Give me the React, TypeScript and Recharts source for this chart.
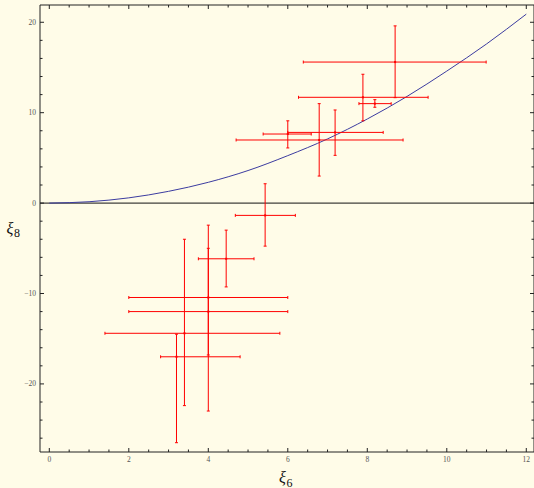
import React from 'react';
import { ComposedChart, Scatter, Line, XAxis, YAxis, ErrorBar, ReferenceLine } from 'recharts';

// ---- data ----
const pointX = [8.7, 7.89, 8.19, 6.0, 7.19, 6.79, 5.43, 4.45, 4.0, 4.0, 3.4, 3.2];
const pointY = [15.6, 11.7, 11.0, 7.64, 7.82, 6.98, -1.36, -6.16, -10.44, -12.0, -14.4, -17.0];
const xErrMinus = [2.31, 1.62, 0.4, 0.62, 1.19, 2.09, 0.75, 0.7, 2.0, 2.0, 2.0, 0.4];
const xErrPlus = [2.29, 1.64, 0.41, 0.59, 1.21, 2.11, 0.76, 0.7, 2.0, 2.0, 2.4, 1.6];
const yErrMinus = [3.94, 2.6, 0.4, 1.54, 2.54, 3.99, 3.4, 3.11, 6.36, 11.0, 8.0, 9.5];
const yErrPlus = [4.0, 2.55, 0.44, 1.46, 2.48, 4.02, 3.5, 3.17, 5.44, 9.56, 10.4, 2.5];

const curveX = [0, 1, 2, 3, 4, 5, 6, 7, 8, 9, 10, 11, 12];
const curveY = [0, 0.15, 0.58, 1.3, 2.3, 3.6, 5.25, 7.1, 9.3, 11.8, 14.6, 17.6, 20.9];

const xTicks = [0, 0.5, 1, 1.5, 2, 2.5, 3, 3.5, 4, 4.5, 5, 5.5, 6, 6.5, 7, 7.5, 8, 8.5, 9, 9.5, 10, 10.5, 11, 11.5, 12];
const xMajor = [0, 2, 4, 6, 8, 10, 12];
const yTicks = [-26, -24, -22, -20, -18, -16, -14, -12, -10, -8, -6, -4, -2, 0, 2, 4, 6, 8, 10, 12, 14, 16, 18, 20];
const yMajor = [-20, -10, 0, 10, 20];

const xDomain = [-0.234, 12.194];
const yDomain = [-27.53, 21.91];

const points = pointX.map((x, i) => ({
  x,
  y: pointY[i],
  ex: [xErrMinus[i], xErrPlus[i]],
  ey: [yErrMinus[i], yErrPlus[i]],
}));
const curve = curveX.map((x, i) => ({ x, y: curveY[i] }));

// ---- layout ----
const W = 534;
const H = 488;
const PLOT_TOP = 5;
const PLOT_BOTTOM = 452;
const PLOT_LEFT = 40;
const PLOT_RIGHT = 534;
const BG = '#FFFCE8';
const FRAME = '#222';
const LABEL = '#555';
const FONT = "'Liberation Serif', 'Times New Roman', 'DejaVu Serif', serif";

const fmt = (v: number) => (v < 0 ? '\u2212' + Math.abs(v) : String(v));

const XTick = (props: any) => {
  const { x, payload } = props;
  const v = payload.value;
  const major = xMajor.includes(v);
  const len = major ? 4 : 2.5;
  return (
    <g>
      <line x1={x} y1={PLOT_BOTTOM} x2={x} y2={PLOT_BOTTOM - len} stroke={FRAME} strokeWidth={1} />
      <line x1={x} y1={PLOT_TOP} x2={x} y2={PLOT_TOP + len} stroke={FRAME} strokeWidth={1} />
      {major && (
        <text x={x} y={462} textAnchor="middle" fill={LABEL} style={{ fontFamily: FONT, fontSize: 7.5 }}>
          {fmt(v)}
        </text>
      )}
    </g>
  );
};

const YTick = (props: any) => {
  const { y, payload } = props;
  const v = payload.value;
  const major = yMajor.includes(v);
  const len = major ? 4 : 2.5;
  return (
    <g>
      <line x1={PLOT_LEFT} y1={y} x2={PLOT_LEFT + len} y2={y} stroke={FRAME} strokeWidth={1} />
      <line x1={PLOT_RIGHT} y1={y} x2={PLOT_RIGHT - len} y2={y} stroke={FRAME} strokeWidth={1} />
      {major && (
        <text x={36} y={y + 2.5} textAnchor="end" fill={LABEL} style={{ fontFamily: FONT, fontSize: 7.5 }}>
          {fmt(v)}
        </text>
      )}
    </g>
  );
};

const Dot = (props: any) => {
  const { cx, cy } = props;
  return <rect x={cx - 1} y={cy - 1} width={2} height={2} fill="#ff0000" />;
};

export default function App() {
  return (
    <div style={{ position: 'absolute', left: 0, top: 0, width: W, height: H, background: BG }}>
      <ComposedChart
        width={W}
        height={H}
        margin={{ top: PLOT_TOP, right: 0, bottom: 0, left: 0 }}
      >
        <XAxis
          type="number"
          dataKey="x"
          domain={xDomain}
          allowDataOverflow
          ticks={xTicks}
          interval={0}
          tickLine={false}
          axisLine={{ stroke: FRAME, strokeWidth: 1 }}
          tick={<XTick />}
          height={36}
        />
        <YAxis
          type="number"
          dataKey="y"
          domain={yDomain}
          allowDataOverflow
          ticks={yTicks}
          interval={0}
          tickLine={false}
          axisLine={{ stroke: FRAME, strokeWidth: 1 }}
          tick={<YTick />}
          width={40}
        />
        <ReferenceLine y={yDomain[1]} stroke={FRAME} strokeWidth={1} />
        <ReferenceLine x={xDomain[1]} stroke={FRAME} strokeWidth={1} />
        <ReferenceLine y={0} stroke="#111" strokeWidth={1} />
        <Line
          data={curve}
          dataKey="y"
          type="monotone"
          dot={false}
          stroke="#3c3ca0"
          strokeWidth={1}
          isAnimationActive={false}
        />
        <Scatter data={points} dataKey="y" shape={<Dot />} isAnimationActive={false}>
          <ErrorBar dataKey="ex" direction="x" width={1.5} stroke="#ff0000" strokeWidth={1} />
          <ErrorBar dataKey="ey" direction="y" width={1.5} stroke="#ff0000" strokeWidth={1} />
        </Scatter>
      </ComposedChart>
      <svg
        width={W}
        height={H}
        style={{ position: 'absolute', left: 0, top: 0, pointerEvents: 'none' }}
      >
        <text fill="#111" style={{ fontFamily: FONT }}>
          <tspan x={6.5} y={233.5} style={{ fontSize: 16, fontStyle: 'italic' }}>ξ</tspan>
          <tspan x={14} y={237} style={{ fontSize: 12 }}>8</tspan>
        </text>
        <text fill="#111" style={{ fontFamily: FONT }}>
          <tspan x={279} y={483} style={{ fontSize: 16, fontStyle: 'italic' }}>ξ</tspan>
          <tspan x={286.5} y={486.5} style={{ fontSize: 12 }}>6</tspan>
        </text>
      </svg>
    </div>
  );
}
